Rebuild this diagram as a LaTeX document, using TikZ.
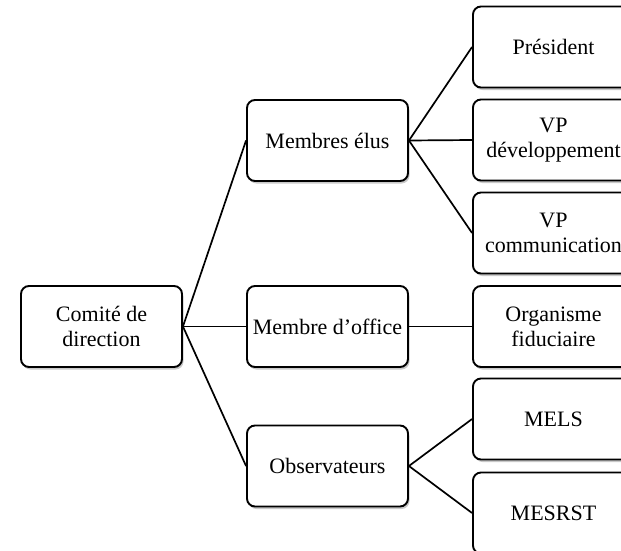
\documentclass[tikz,border=0pt]{standalone}
\usepackage{fontspec}
\setmainfont{Liberation Serif}
\usetikzlibrary{shadows}
\tikzset{
  box/.style={draw=black, line width=1.9pt, rounded corners=8pt, fill=white,
    minimum width=161pt, minimum height=81pt, align=center, inner sep=2pt,
    font=\fontsize{22}{25}\selectfont,
    drop shadow={shadow xshift=1.5pt, shadow yshift=-2.5pt, opacity=0.35, fill=black!60}},
  conn/.style={line width=1.7pt}
}
\begin{document}
\begin{tikzpicture}[x=1pt,y=-1pt]
\useasboundingbox (0,0) rectangle (621,551);
\clip (0,0) rectangle (621,551);
\fill[white] (0,0) rectangle (621,551);
\node[box] (comite) at (101.5,326.5) {Comité de\\direction};
\node[box] (elus) at (327.5,140.5) {Membres élus};
\node[box] (office) at (327.5,326.5) {Membre d’office};
\node[box] (obs) at (327.5,466) {Observateurs};
\node[box] (pres) at (553.5,47) {Président};
\node[box] (vpdev) at (553.5,140) {VP\\développement};
\node[box] (vpcom) at (553.5,233) {VP\\communication};
\node[box] (org) at (553.5,326.5) {Organisme\\fiduciaire};
\node[box] (mels) at (553.5,419) {MELS};
\node[box] (mesrst) at (553.5,513) {MESRST};
\foreach \c in {elus,office,obs} \draw[conn] (comite.east) -- (\c.west);
\foreach \c in {pres,vpdev,vpcom} \draw[conn] (elus.east) -- (\c.west);
\draw[conn] (office.east) -- (org.west);
\foreach \c in {mels,mesrst} \draw[conn] (obs.east) -- (\c.west);
\end{tikzpicture}
\end{document}
